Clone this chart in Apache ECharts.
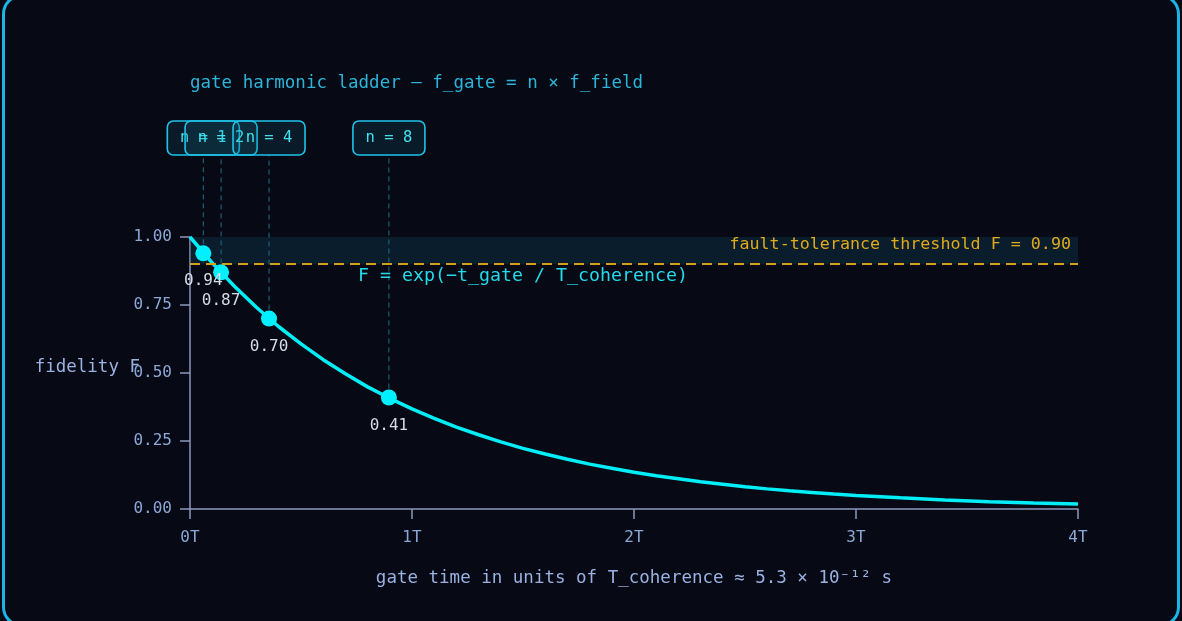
<!DOCTYPE html>
<html>
<head>
<meta charset="utf-8">
<script src="https://cdn.jsdelivr.net/npm/echarts@6/dist/echarts.min.js"></script>
<style>
  html, body { margin:0; padding:0; background:#070914; overflow:hidden; }
  #chart { position:absolute; left:0; top:0; width:1182px; height:621px; }
  #frame { position:absolute; left:2px; top:-6px; width:1172px; height:627px; border:3px solid #1ab4e6; border-radius:20px; pointer-events:none; }
</style>
</head>
<body>
<div id="chart"></div>
<div id="frame"></div>
<script>
// ---- data ----
const curveT = [0,0.1,0.2,0.3,0.4,0.5,0.6,0.7,0.8,0.9,1.0,1.1,1.2,1.3,1.4,1.5,1.6,1.7,1.8,1.9,2.0,2.1,2.2,2.3,2.4,2.5,2.6,2.7,2.8,2.9,3.0,3.2,3.4,3.6,3.8,4.0];
const curveF = [1.000,0.905,0.819,0.741,0.670,0.607,0.549,0.497,0.449,0.407,0.368,0.333,0.301,0.273,0.247,0.223,0.202,0.183,0.165,0.150,0.135,0.122,0.111,0.100,0.091,0.082,0.074,0.067,0.061,0.055,0.050,0.041,0.033,0.027,0.022,0.018];
const harmonicN = [1, 2, 4, 8];
const gateTime = [0.06, 0.14, 0.356, 0.896];
const gateFidelity = [0.94, 0.87, 0.70, 0.41];
const threshold = 0.90;
const xTicks = [0, 1, 2, 3, 4];
const yTicks = [0, 0.25, 0.5, 0.75, 1.0];
const formulaPos = [1.5, 0.857];

const FONT = '"DejaVu Sans Mono", "Liberation Mono", monospace';
const chart = echarts.init(document.getElementById('chart'), null, {renderer:'canvas'});

const curveData = curveT.map((t, i) => [t, curveF[i]]);
const gateData = gateTime.map((t, i) => [t, gateFidelity[i], harmonicN[i]]);

chart.setOption({
  backgroundColor: 'transparent',
  animation: false,
  title: {
    text: 'gate harmonic ladder — f_gate = n × f_field',
    left: 190, top: 74, padding: 0,
    textStyle: { color:'#2bb5d9', fontSize:17.5, fontWeight:'normal', fontFamily:FONT }
  },
  grid: { left:190, right:104, top:237, bottom:112 },
  xAxis: {
    type:'value', min:0, max:4, interval:1,
    name:'gate time in units of T_coherence ≈ 5.3 × 10⁻¹² s',
    nameLocation:'middle', nameGap:60, nameMoveOverlap:false,
    nameTextStyle:{ color:'#9ab2e2', fontSize:17.5, fontFamily:FONT },
    axisLine:{ show:true, lineStyle:{ color:'#8b99bd', width:1.5 } },
    axisTick:{ show:true, length:10, lineStyle:{ color:'#8b99bd', width:1.5 } },
    axisLabel:{ color:'#8aa8d8', fontSize:16, fontFamily:FONT, margin:21,
      formatter: v => xTicks.includes(v) ? v + 'T' : '' },
    splitLine:{ show:false }
  },
  yAxis: {
    type:'value', min:0, max:1, interval:0.25,
    name:'fidelity F', nameLocation:'middle', nameRotate:0, nameGap:50, nameMoveOverlap:false,
    nameTextStyle:{ color:'#9ab2e2', fontSize:17.5, fontFamily:FONT, align:'right', verticalAlign:'bottom', lineHeight:12 },
    axisLine:{ show:true, lineStyle:{ color:'#8b99bd', width:1.5 } },
    axisTick:{ show:true, length:10, lineStyle:{ color:'#8b99bd', width:1.5 } },
    axisLabel:{ color:'#8aa8d8', fontSize:16, fontFamily:FONT, margin:18,
      formatter: v => yTicks.includes(v) ? v.toFixed(2) : '' },
    splitLine:{ show:false }
  },
  series: [
    {
      type:'custom', z:1, clip:false, silent:true,
      data: gateData,
      renderItem: (params, api) => {
        const t = api.value(0), f = api.value(1), n = api.value(2);
        const p = api.coord([t, f]);
        const top = api.coord([t, 1])[1];
        const boxBottom = top - 82;
        return { type:'group', children:[
          { type:'line', shape:{ x1:p[0], y1:p[1], x2:p[0], y2:boxBottom },
            style:{ stroke:'#1d6f88', lineWidth:1, lineDash:[5,4] } },
          { type:'rect', shape:{ x:p[0]-36, y:boxBottom-34, width:72, height:34, r:6 },
            style:{ fill:'rgba(20,110,140,0.18)', stroke:'#1fc4ea', lineWidth:1.6 } },
          { type:'text', style:{ text:'n = ' + n, x:p[0], y:boxBottom-17, align:'center', verticalAlign:'middle',
            fill:'#3fe3ef', fontSize:15.5, fontFamily:FONT } }
        ]};
      }
    },
    {
      type:'line', z:2, data: curveData, showSymbol:false, smooth:false,
      lineStyle:{ color:'#00eef8', width:3.5 }, itemStyle:{ color:'#00eef8' },
      markArea: {
        silent:true,
        itemStyle:{ color:'rgba(16,70,90,0.35)' },
        data:[[ { coord:[0, threshold] }, { coord:[4, 1] } ]]
      },
      markLine: {
        silent:true, symbol:['none','none'],
        lineStyle:{ color:'#d4a017', type:[10,6], width:2 },
        label:{ show:true, position:'insideEndTop', formatter:'fault-tolerance threshold F = 0.90',
          color:'#e0aa1c', fontSize:16.7, fontFamily:FONT, distance:[7, 11] },
        data:[ { yAxis: threshold } ]
      },
      markPoint: {
        silent:true,
        data:[ { coord: formulaPos, symbol:'circle', symbolSize:0,
          label:{ show:true, position:'inside', formatter:'F = exp(−t_gate / T_coherence)',
            color:'#22dbea', fontSize:18.3, fontFamily:FONT } } ]
      }
    },
    {
      type:'scatter', z:3, data: gateData, symbolSize:16,
      itemStyle:{ color:'#00f0ff', opacity:1 },
      label:{ show:true, position:'bottom', distance:12, color:'#d5dae6', fontSize:16, fontFamily:FONT,
        formatter: p => p.value[1].toFixed(2) }
    }
  ]
});
</script>
</body>
</html>
